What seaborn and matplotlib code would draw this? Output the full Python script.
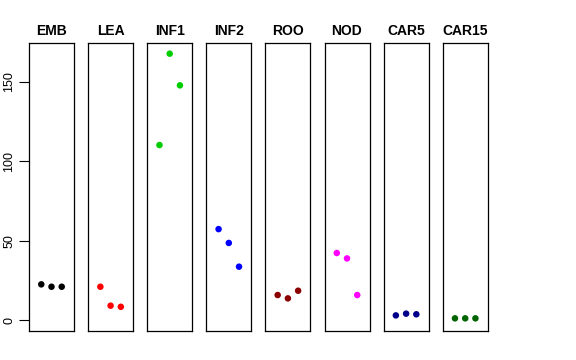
import pandas as pd
import matplotlib.pyplot as plt
import seaborn as sns

sns.set_style("white")
plt.rcParams['font.family'] = ['Liberation Sans', 'DejaVu Sans']
plt.rcParams['text.color'] = 'black'
plt.rcParams['ytick.color'] = 'black'
plt.rcParams['ytick.labelcolor'] = 'black'

# one panel per tissue, three replicates each
tissues = ['EMB', 'LEA', 'INF1', 'INF2', 'ROO', 'NOD', 'CAR5', 'CAR15']
colors = ['#000000', '#FF0000', '#00CD00', '#0000FF', '#8B0000', '#FF00FF', '#00008B', '#006400']
rep = [1, 2, 3]
emb = [22.6, 21.1, 21.1]
lea = [21.1, 9.2, 8.5]
inf1 = [110.1, 167.5, 147.6]
inf2 = [57.3, 48.6, 33.7]
roo = [15.9, 13.8, 18.6]
nod = [42.3, 38.9, 15.9]
car5 = [3.1, 4.2, 3.8]
car15 = [1.25, 1.25, 1.25]
values = [emb, lea, inf1, inf2, roo, nod, car5, car15]
yticks = [0, 50, 100, 150]

rows = []
for t, v in zip(tissues, values):
    for r, y in zip(rep, v):
        rows.append({'tissue': t, 'rep': r, 'value': y})
df = pd.DataFrame(rows)

W, H = 576, 360
fig = plt.figure(figsize=(W / 100, H / 100), dpi=100)

left0, step, pw = 29, 59.1, 45
top, bottom = 43, 331
for i, (t, c) in enumerate(zip(tissues, colors)):
    ax = fig.add_axes([(left0 + i * step) / W, (H - bottom) / H, pw / W, (bottom - top) / H])
    sns.scatterplot(data=df[df['tissue'] == t], x='rep', y='value', color=c,
                    s=22, edgecolor='none', ax=ax, legend=False)
    ax.set_xlim(-0.2, 4.2)
    ax.set_ylim(-6.7, 174.2)
    ax.set_xticks([])
    ax.set_xlabel('')
    ax.set_ylabel('')
    ax.set_title(t, fontsize=10, fontweight='bold', pad=6, color='black')
    for sp in ax.spines.values():
        sp.set_color('black')
        sp.set_linewidth(0.9)
    if i == 0:
        ax.set_yticks(yticks)
        ax.tick_params(axis='y', left=True, length=7, width=0.8, labelsize=9,
                       pad=3, labelrotation=90, colors='black')
        for lab in ax.get_yticklabels():
            lab.set_va('center')
    else:
        ax.set_yticks([])

fig.savefig('out.png', dpi=100)
